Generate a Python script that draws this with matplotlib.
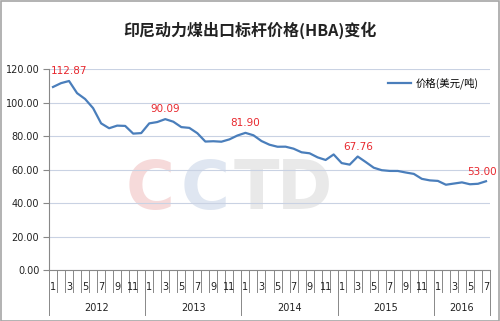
import matplotlib
matplotlib.use("Agg")
import matplotlib.pyplot as plt
import matplotlib.transforms as mtransforms
from matplotlib.patches import Rectangle

plt.rcParams['font.family'] = ['Noto Sans CJK SC', 'DejaVu Sans']

title = "印尼动力煤出口标杆价格(HBA)变化"
series_name = "价格(美元/吨)"
years = ["2012", "2013", "2014", "2015", "2016"]
months_per_year = [12, 12, 12, 12, 7]
prices = [
    109.29, 111.58, 112.87, 105.61, 102.12, 96.65, 87.56, 84.65, 86.21, 86.04, 81.44, 81.75,
    87.55, 88.35, 90.09, 88.56, 85.33, 84.87, 81.69, 76.70, 76.89, 76.61, 78.00, 80.31,
    81.90, 80.44, 77.01, 74.81, 73.60, 73.64, 72.45, 70.29, 69.69, 67.26, 65.70, 69.00,
    63.84, 62.92, 67.76, 64.48, 61.08, 59.59, 59.16, 59.14, 58.21, 57.39, 54.43, 53.51,
    53.20, 50.92, 51.62, 52.32, 51.20, 51.48, 53.00,
]
labeled_points = [2, 14, 24, 38, 54]
yticks = [0, 20, 40, 60, 80, 100, 120]

fig = plt.figure(figsize=(5.0, 3.21), dpi=100)
fig.patch.set_facecolor("white")
fig.add_artist(Rectangle((0.001, 0.001), 0.997, 0.996, transform=fig.transFigure,
                         fill=False, edgecolor="#a6a6a6", linewidth=1.2))

ax = fig.add_axes([0.098, 0.1589, 0.882, 0.626])
n = len(prices)
xs = list(range(n))

# faint watermark letters
wm = [("C", 0.23, "#f6dada"), ("C", 0.355, "#dfe6f1"), ("T", 0.47, "#e9e9e9"), ("D", 0.58, "#e9e9e9")]
for ch, xpos, col in wm:
    ax.text(xpos, 0.40, ch, transform=ax.transAxes, fontsize=48, color=col,
            ha="center", va="center", fontweight="bold", family="DejaVu Sans", zorder=0)

ax.plot(xs, prices, color="#4a7ebb", linewidth=1.6, zorder=3, label=series_name)

for i in labeled_points:
    dx = -3 if i == n - 1 else 0
    ax.annotate(f"{prices[i]:.2f}", (xs[i], prices[i]), xytext=(dx, 7),
                textcoords="offset points", ha="center", va="center",
                fontsize=7.5, color="#e8282e", family="DejaVu Sans", zorder=4)

ax.set_xlim(-0.5, n - 0.5)
ax.set_ylim(0, 120)
ax.set_yticks(yticks)
ax.set_yticklabels([f"{v:.2f}" for v in yticks], fontsize=7, family="DejaVu Sans", color="#222222")
ax.tick_params(axis="y", length=4, color="#888888", pad=3)
ax.set_xticks([])
ax.grid(axis="y", color="#c9d2e3", linewidth=0.8)
ax.set_axisbelow(True)
for s in ["top", "right"]:
    ax.spines[s].set_visible(False)
ax.spines["left"].set_color("#888888")
ax.spines["bottom"].set_color("#888888")

trans = mtransforms.blended_transform_factory(ax.transData, ax.transAxes)
start = 0
for yi, (yr, m) in enumerate(zip(years, months_per_year)):
    for k in range(m):
        idx = start + k
        if k % 2 == 0:
            ax.text(idx, -0.085, str(k + 1), transform=trans, ha="center", va="center",
                    fontsize=7, family="DejaVu Sans", color="#222222", clip_on=False)
        if idx > 0:
            ax.plot([idx - 0.5, idx - 0.5], [0, -0.11], transform=trans, color="#888888",
                    linewidth=0.7, clip_on=False)
    ax.text(start + (m - 1) / 2.0, -0.19, yr, transform=trans, ha="center", va="center",
            fontsize=7, family="DejaVu Sans", color="#222222", clip_on=False)
    start += m
for b in [-0.5] + [sum(months_per_year[:i + 1]) - 0.5 for i in range(len(years))]:
    ax.plot([b, b], [0, -0.225], transform=trans, color="#888888", linewidth=0.7, clip_on=False)

leg = ax.legend(loc="upper right", bbox_to_anchor=(0.995, 1.005), frameon=False,
                fontsize=7.5, handlelength=2.2, handletextpad=0.4)

fig.text(0.5, 0.907, title, ha="center", va="center", fontsize=11.5, fontweight="bold",
         color="#222222")

fig.savefig("out.png", dpi=100, facecolor="white")
